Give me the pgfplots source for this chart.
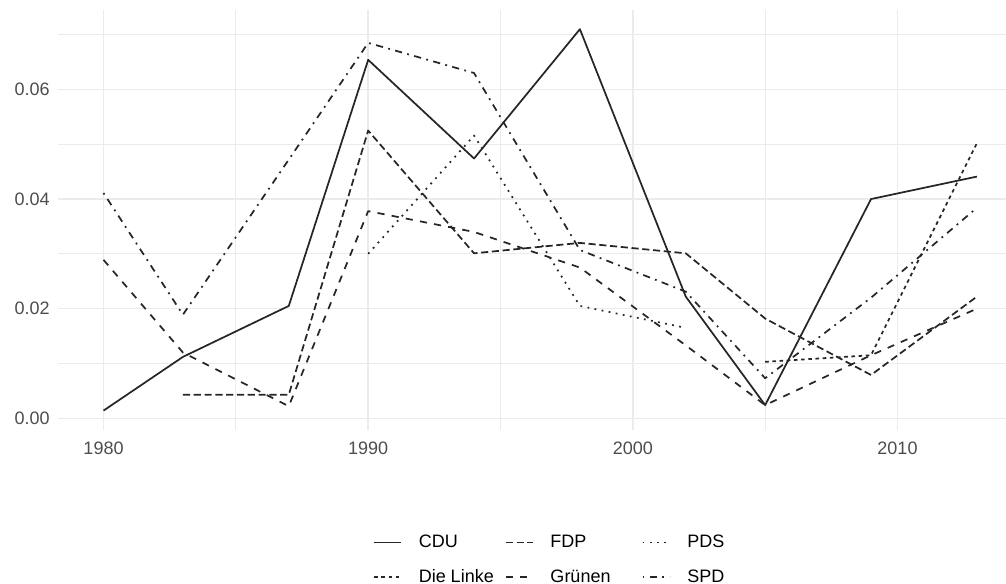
\documentclass[border=0pt]{standalone}
\usepackage{fontspec}
\setmainfont{Liberation Sans}
\usepackage{pgfplots}
\pgfplotsset{compat=1.18}
\definecolor{gridc}{HTML}{EBEBEB}
\definecolor{tickc}{HTML}{4D4D4D}
\definecolor{linec}{HTML}{262626}
\begin{document}
\begin{tikzpicture}
\begin{axis}[
  at={(0pt,0pt)}, anchor=south west,
  scale only axis, width=711pt, height=315pt,
  xmin=1978.28, xmax=2014.1, ymin=-0.00214, ymax=0.0745,
  axis line style={draw=none}, tick style={draw=none},
  xtick={1980,1990,2000,2010}, xticklabels={1980,1990,2000,2010},
  minor xtick={1985,1995,2005},
  ytick={0,0.02,0.04,0.06}, yticklabels={0.00,0.02,0.04,0.06},
  minor ytick={0.01,0.03,0.05,0.07},
  grid=both,
  major grid style={draw=gridc, line width=1.1pt},
  minor grid style={draw=gridc, line width=0.8pt},
  tick label style={font=\fontsize{13.5}{16}\selectfont, text=tickc},
  xticklabel shift=5.5pt, yticklabel shift=2.8pt,
  legend columns=3,
  legend cell align=left,
  legend style={draw=none, fill=none, inner sep=0pt, row sep=15pt, column sep=0pt,
    at={(0.3323,-0.25)}, anchor=north west,
    font=\fontsize{13.5}{16}\selectfont, nodes={inner sep=0pt}},
  legend image code/.code={\draw[#1] (0pt,0pt) -- (20.25pt,0pt); \path (32.8pt,0pt);},
  every axis plot/.append style={line width=1.3pt, color=linec, line join=round, line cap=butt},
]
\addplot[solid] coordinates {(1980,0.0014) (1983,0.0112) (1987,0.0205) (1990,0.0654) (1994,0.0474) (1998,0.0710) (2002,0.0222) (2005,0.0024) (2009,0.0400) (2013,0.0441)};
\addlegendentry{\makebox[64.7pt][l]{CDU}}
\addplot[dash pattern=on 5.4pt off 2.7pt] coordinates {(1983,0.0043) (1987,0.0043) (1990,0.0525) (1994,0.0301) (1998,0.0320) (2002,0.0301) (2005,0.0182) (2009,0.0079) (2013,0.0222)};
\addlegendentry{\makebox[68.5pt][l]{FDP}}
\addplot[dash pattern=on 1.35pt off 4.05pt] coordinates {(1990,0.0300) (1994,0.0516) (1998,0.0205) (2002,0.0165)};
\addlegendentry{PDS}
\addplot[dash pattern=on 2.7pt off 2.7pt] coordinates {(2005,0.0103) (2009,0.0115) (2013,0.0502)};
\addlegendentry{\makebox[64.7pt][l]{Die Linke}}
\addplot[dash pattern=on 5.4pt off 5.4pt] coordinates {(1980,0.0289) (1983,0.0120) (1987,0.0022) (1990,0.0378) (1994,0.0340) (1998,0.0275) (2002,0.0133) (2005,0.0024) (2009,0.0115) (2013,0.0200)};
\addlegendentry{\makebox[68.5pt][l]{Grünen}}
\addplot[dash pattern=on 1.35pt off 4.05pt on 5.4pt off 4.05pt] coordinates {(1980,0.0411) (1983,0.0189) (1987,0.0472) (1990,0.0685) (1994,0.0630) (1998,0.0307) (2002,0.0231) (2005,0.0073) (2009,0.0220) (2013,0.0384)};
\addlegendentry{SPD}
\end{axis}
\pgfresetboundingbox
\path[use as bounding box] (-43.5pt,-115.5pt) rectangle (711pt,322.5pt);
\end{tikzpicture}
\end{document}
